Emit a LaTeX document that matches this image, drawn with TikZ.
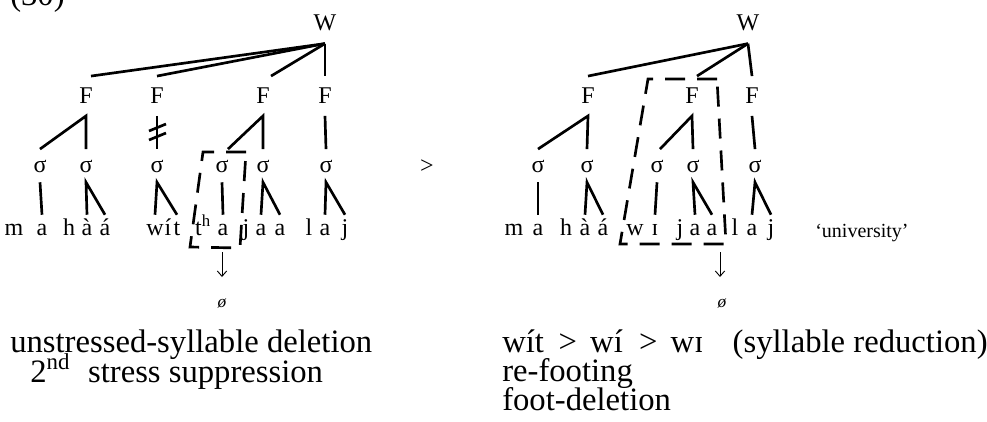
\documentclass[tikz,border=0pt]{standalone}
\usepackage{fontspec}
\setmainfont{Liberation Serif}
\usetikzlibrary{arrows.meta}

\begin{document}
\begin{tikzpicture}[x=0.75pt,y=0.75pt,yscale=-1,xscale=1,
	tree/.style={line width=2pt},
	dbox/.style={line width=2pt,dash pattern=on 15pt off 9pt},
	arr/.style={line width=0.7pt,-{Straight Barb[length=4pt,width=7pt]}},
	lbl/.style={inner sep=0pt,anchor=base,font=\fontsize{18}{21}\selectfont},
	wlbl/.style={lbl,text depth=10pt},
	flbl/.style={lbl,text height=20pt,text depth=9.5pt},
	slbl/.style={lbl,text height=17pt,text depth=7.5pt},
	seg/.style={lbl,text height=15pt,text depth=0pt},
	note/.style={inner sep=0pt,anchor=base west,align=left}]
	      		\useasboundingbox (0,0) rectangle (987,421);
	      		
	      		% Text Node
	      		\draw (10,5) node [note,font=\fontsize{24.5}{28}\selectfont] (ex) {(30)};
	      		
	      		%Left tree: labels
	      		\draw (325,30) node [wlbl] (WL) {W};
	      		\draw (86,103) node [flbl] (FL1) {F};
	      		\draw (157,103) node [flbl] (FL2) {F};
	      		\draw (263,103) node [flbl] (FL3) {F};
	      		\draw (325,103) node [flbl] (FL4) {F};
	      		\draw (40,172) node [slbl] (SL1) {σ};
	      		\draw (86,172) node [slbl] (SL2) {σ};
	      		\draw (157,172) node [slbl] (SL3) {σ};
	      		\draw (222,172) node [slbl] (SL4) {σ};
	      		\draw (263,172) node [slbl] (SL5) {σ};
	      		\draw (326,172) node [slbl] (SL6) {σ};
	      		% Text Node
	      		\draw (14,235) node [seg] (L1) {m};
	      		\draw (42,235) node [seg] (L2) {a};
	      		\draw (69,235) node [seg] (L3) {h};
	      		\draw (87,235) node [seg] (L4) {à};
	      		\draw (105,235) node [seg] (L5) {á};
	      		\draw (155,235) node [seg] (L6) {w};
	      		\draw (168,235) node [seg] (L7) {í};
	      		\draw (177,235) node [seg] (L8) {t};
	      		\draw (203,235) node [seg] (L9) {t\textsuperscript{h}};
	      		\draw (223,235) node [seg] (L10) {a};
	      		\draw (246,235) node [seg] (L11) {j};
	      		\draw (261,235) node [seg] (L12) {a};
	      		\draw (280,235) node [seg] (L13) {a};
	      		\draw (309,235) node [seg] (L14) {l};
	      		\draw (325,235) node [seg] (L15) {a};
	      		\draw (345,235) node [seg] (L16) {j};
	      		
	      		%Straight Lines
	      		\draw [tree] (WL.south) -- ([xshift=3.75pt]FL1.north);
	      		\draw [tree] (WL.south) -- (FL2.north);
	      		\draw [tree] (WL.south) -- ([xshift=6pt]FL3.north);
	      		\draw [tree] (WL.south) -- (FL4.north);
	      		\draw [tree] (SL1.north) -- (FL1.south) -- (SL2.north);
	      		\draw [tree] (FL2.south) -- (SL3.north);
	      		\draw [tree] (149,131) -- (166,124);
	      		\draw [tree] (149,140) -- (166,133);
	      		\draw [tree] ([xshift=4.5pt]SL4.north) -- (FL3.south) -- (SL5.north);
	      		\draw [tree] (FL4.south) -- (SL6.north);
	      		\draw [tree] (SL1.south) -- (L2.north);
	      		\draw [tree] (L4.north) -- (SL2.south) -- (L5.north);
	      		\draw [tree] (L6.north) -- (SL3.south) -- (L8.north);
	      		\draw [tree] (SL4.south) -- (L10.north);
	      		\draw [tree] (L12.north) -- (SL5.south) -- (L13.north);
	      		\draw [tree] (L15.north) -- (SL6.south) -- (L16.north);
	      		%Shape: dashed box
	      		\draw [dbox] (246,152) -- (203,152) -- (190,247) -- (240,248) -- cycle;
	      		
	      		\coordinate (dL1) at (222,252);
	      		\coordinate (dL2) at (222,277);
	      		\draw [arr] (dL1) -- (dL2);
	      		\draw (222,307) node [lbl,font=\fontsize{13}{15}\selectfont\itshape] (NL) {ø};
	      		
	      		% Text Node
	      		\draw (427,173) node [lbl] (gt) {>};
	      		
	      		%Right tree: labels
	      		\draw (748,30) node [wlbl] (WR) {W};
	      		\draw (588,103) node [flbl] (FR1) {F};
	      		\draw (692,103) node [flbl] (FR2) {F};
	      		\draw (752,103) node [flbl] (FR3) {F};
	      		\draw (538,172) node [slbl] (SR1) {σ};
	      		\draw (587,172) node [slbl] (SR2) {σ};
	      		\draw (657,172) node [slbl] (SR3) {σ};
	      		\draw (693,172) node [slbl] (SR4) {σ};
	      		\draw (755,172) node [slbl] (SR5) {σ};
	      		% Text Node
	      		\draw (514,235) node [seg] (R1) {m};
	      		\draw (538,235) node [seg] (R2) {a};
	      		\draw (566,235) node [seg] (R3) {h};
	      		\draw (585,235) node [seg] (R4) {à};
	      		\draw (603,235) node [seg] (R5) {á};
	      		\draw (635,235) node [seg] (R6) {w};
	      		\draw (655,235) node [seg] (R7) {ɪ};
	      		\draw (680,235) node [seg] (R8) {j};
	      		\draw (695,235) node [seg] (R9) {a};
	      		\draw (712,235) node [seg] (R10) {a};
	      		\draw (735,235) node [seg] (R11) {l};
	      		\draw (752,235) node [seg] (R12) {a};
	      		\draw (771,235) node [seg] (R13) {j};
	      		
	      		%Straight Lines
	      		\draw [tree] (WR.south) -- (FR1.north);
	      		\draw [tree] (WR.south) -- ([xshift=3.75pt]FR2.north);
	      		\draw [tree] (WR.south) -- (FR3.north);
	      		\draw [tree] (SR1.north) -- (FR1.south) -- (SR2.north);
	      		\draw [tree] ([xshift=2.25pt]SR3.north) -- (FR2.south) -- (SR4.north);
	      		\draw [tree] (FR3.south) -- (SR5.north);
	      		\draw [tree] (SR1.south) -- (R2.north);
	      		\draw [tree] (R4.north) -- (SR2.south) -- (R5.north);
	      		\draw [tree] (SR3.south) -- (R7.north);
	      		\draw [tree] (R9.north) -- (SR4.south) -- (R10.north);
	      		\draw [tree] (R12.north) -- (SR5.south) -- (R13.north);
	      		%Shape: dashed box
	      		\draw [dbox] (717,79) -- (648,79) -- (620,244) -- (726,244) -- cycle;
	      		
	      		\coordinate (dR1) at (720,252);
	      		\coordinate (dR2) at (720,277);
	      		\draw [arr] (dR1) -- (dR2);
	      		\draw (722,307) node [lbl,font=\fontsize{13}{15}\selectfont\itshape] (NR) {ø};
	      		
	      		% Text Node
	      		\draw (815,237) node [note,font=\fontsize{15}{17}\selectfont] (gloss) {‘university’};
	      		
	      		% Text Node
	      		\draw (10,382) node [note,font={\fontsize{24.5}{22.5}\selectfont\lineskiplimit=-50pt\relax}] (nL) {unstressed-syllable deletion\\\hspace*{15pt}2\textsuperscript{nd}\hspace{0.3em} stress suppression};
	      		% Text Node
	      		\draw (502,410) node [note,font={\fontsize{24.5}{21.75}\selectfont\lineskiplimit=-50pt\relax}] (nR) {wít\hspace{0.45em}>\hspace{0.4em}wí\hspace{0.5em}>\hspace{0.4em}wɪ\hspace{0.9em}(syllable reduction)\\re-footing\\foot-deletion};
	      		
	      		
	      	\end{tikzpicture}
\end{document}
